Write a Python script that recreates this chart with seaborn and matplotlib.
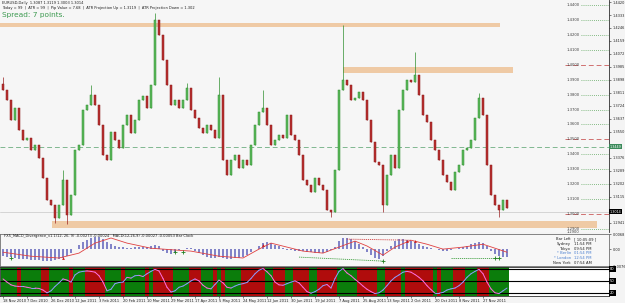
import numpy as np
import matplotlib
matplotlib.use("Agg")
import matplotlib.pyplot as plt
import seaborn as sns
import pandas as pd

sns.set_theme(style="white")
plt.rcParams['font.family'] = ['DejaVu Sans']

# ---------------- data ----------------
open0 = 1.3871
close = [1.3831, 1.3764, 1.3630, 1.3710, 1.3563, 1.3496, 1.3509, 1.3429, 1.3462, 1.3375,
         1.3241, 1.3094, 1.3060, 1.2973, 1.3060, 1.3228, 1.2993, 1.3127, 1.3429, 1.3462,
         1.3697, 1.3730, 1.3797, 1.3730, 1.3596, 1.3395, 1.3362, 1.3549, 1.3496, 1.3442,
         1.3596, 1.3663, 1.3543, 1.3630, 1.3764, 1.3791, 1.3710, 1.3864, 1.4300, 1.4199,
         1.4032, 1.3864, 1.3730, 1.3764, 1.3710, 1.3764, 1.3844, 1.3697, 1.3643, 1.3576,
         1.3543, 1.3596, 1.3563, 1.3509, 1.3797, 1.3362, 1.3261, 1.3362, 1.3395, 1.3308,
         1.3362, 1.3328, 1.3462, 1.3596, 1.3683, 1.3710, 1.3596, 1.3462, 1.3496, 1.3529,
         1.3509, 1.3663, 1.3529, 1.3496, 1.3395, 1.3228, 1.3194, 1.3148, 1.3241, 1.3194,
         1.3161, 1.3027, 1.3014, 1.3295, 1.3831, 1.3898, 1.3864, 1.3764, 1.3777, 1.3817,
         1.3764, 1.3630, 1.3482, 1.3348, 1.3328, 1.3060, 1.3261, 1.3395, 1.3308, 1.3697,
         1.3831, 1.3898, 1.3884, 1.3931, 1.3797, 1.3663, 1.3616, 1.3496, 1.3429, 1.3362,
         1.3261, 1.3215, 1.3161, 1.3282, 1.3328, 1.3429, 1.3442, 1.3496, 1.3643, 1.3777,
         1.3663, 1.3328, 1.3127, 1.3060, 1.3027, 1.3094, 1.3040]
spike_high_idx = [0, 15, 22, 38, 46, 54, 65, 85, 103, 119]
spike_high = [1.3918, 1.3295, 1.3864, 1.4346, 1.3878, 1.3918, 1.3831, 1.4266, 1.4085, 1.3811]
spike_low_idx = [13, 16, 82, 95, 124]
spike_low = [1.2940, 1.2933, 1.2980, 1.3014, 1.2980]

# MACD histogram (ten-thousandths)
macd_hist = [-32, -36, -36, -40, -45, -45, -45, -50, -50, -50,
             -54, -54, -54, -50, -45, -40, -32, -18, 0, 18,
             32, 40, 50, 54, 54, 45, 32, 22, 14, 9,
             9, 4, 4, 9, 9, 9, 9, 14, 18, 14,
             -9, -18, -22, -18, -4, 0, 4, 4, -9, -18,
             -27, -36, -40, -40, -36, -40, -45, -45, -40, -40,
             -36, -27, -14, 0, 14, 27, 32, 27, 18, 14,
             4, -4, -4, -9, -9, -9, -14, -14, -18, -18,
             -18, -14, -4, 9, 36, 50, 50, 45, 36, 22,
             9, -14, -27, -40, -45, -32, -9, 14, 36, 45,
             45, 40, 36, 32, 22, 14, 9, 4, 0, -4,
             -9, -9, -4, 0, 4, 9, 14, 22, 27, 32,
             27, 14, -9, -22, -32, -36, -36]
signal_idx = [0, 7, 14, 19, 23, 27, 31, 37, 43, 47, 54, 60, 64, 67, 71, 75, 80, 84, 88, 91,
              95, 98, 102, 106, 110, 115, 120, 123, 126]
signal_val = [-14, -32, -40, -18, 27, 50, 27, 4, -4, -9, -32, -40, 0, 27, 9, -9, -18, 9, 36, 14,
              -27, 9, 40, 22, 0, 9, 22, 4, -14]
red_mark_idx = [15, 65, 101, 103]
red_mark_val = [-40, 20, 36, 36]
green_mark_idx = [2, 43, 45, 95, 123, 124]
green_mark_val = [-40, -14, -14, -54, -40, -40]
div_lines = [((86, 45), (102, 40), '#d04040'),
             ((74, -36), (95, -54), '#40a040'),
             ((112, -40), (124, -40), '#40a040')]

# oscillator
osc = [55, 47, 40, 37, 36, 36, 34, 32, 32, 31,
       27, 20, 25, 36, 45, 55, 52, 47, 65, 72,
       74, 75, 74, 72, 63, 47, 25, 29, 43, 46,
       47, 59, 57, 63, 64, 61, 68, 74, 79, 75,
       56, 34, 22, 25, 34, 37, 43, 50, 55, 50,
       39, 32, 30, 41, 52, 45, 34, 32, 37, 41,
       43, 46, 56, 68, 77, 81, 73, 63, 47, 40,
       39, 43, 47, 50, 45, 34, 23, 19, 23, 29,
       38, 41, 32, 56, 74, 81, 70, 63, 54, 46,
       37, 29, 23, 18, 20, 27, 38, 50, 59, 65,
       72, 74, 72, 66, 59, 50, 38, 28, 19, 19,
       21, 27, 30, 32, 38, 47, 59, 68, 74, 79,
       68, 47, 30, 20, 18, 25, 32]
stripes = ("gggg" "r" "ggggg" "rr" "ggggg" "r" "ggg" "rrrrr" "gggg" "r" "ggggg" "r" "g"
           "rrrrr" "gggg" "rrr" "ggg" "r" "g" "r" "gggg" "rrrrrr" "gg" "rrr" "gg" "rrrr"
           "gg" "rrrrr" "ggggg" "rrrrr" "gg" "rrrr" "g" "rrrrrrr" "g" "r" "ggg" "rrr"
           "ggg" "rrr" "ggggg")
osc_levels = [80, 50, 20]
osc_labels = ["80", "50", "20"]

date_idx = [0, 6, 12, 18, 24, 30, 36, 42, 48, 54, 60, 66, 72, 78, 84, 90, 96, 102, 108, 114, 120]
date_labels = ["18 Nov 2010", "7 Dec 2010", "26 Dec 2010", "12 Jan 2011", "3 Feb 2011",
               "20 Feb 2011", "10 Mar 2011", "29 Mar 2011", "17 Apr 2011", "5 May 2011",
               "24 May 2011", "12 Jun 2011", "30 Jun 2011", "19 Jul 2011", "7 Aug 2011",
               "25 Aug 2011", "13 Sep 2011", "2 Oct 2011", "20 Oct 2011", "8 Nov 2011",
               "27 Nov 2011"]

grid_levels = [1.4400, 1.4300, 1.4200, 1.4100, 1.4000, 1.3900, 1.3800, 1.3700, 1.3600,
               1.3500, 1.3400, 1.3300, 1.3200, 1.3100, 1.3000, 1.2900]
major_levels = [1.4000, 1.3500, 1.3000]
right_ticks = [1.4420, 1.4333, 1.4246, 1.4159, 1.4072, 1.3985, 1.3898, 1.3811, 1.3724,
               1.3637, 1.3550, 1.3376, 1.3289, 1.3202, 1.3115, 1.2941]
zones = [(-0.75, 124.25, 1.4253, 1.4279), (85.0, 127.5, 1.3945, 1.3985),
         (12.25, 148.5, 1.2906, 1.2953)]
mid_line = 1.3449
bid = 1.3014

# ---------------- figure ----------------
W, H = 625, 303
fig = plt.figure(figsize=(W / 100, H / 100), dpi=100, facecolor='#f4f4f4')
right_px = 609
XL = (-0.75, 151.5)

def axrect(top, bottom):
    return [0, 1 - bottom / H, right_px / W, (bottom - top) / H]

ax = fig.add_axes(axrect(0, 232))
axm = fig.add_axes(axrect(234, 266))
axo = fig.add_axes(axrect(267, 296))

n = len(close)
idx = np.arange(n)
c = np.array(close)
o = np.concatenate([[open0], c[:-1]])
hi = np.maximum(o, c)
lo = np.minimum(o, c)
hi[spike_high_idx] = spike_high
lo[spike_low_idx] = spike_low

df = pd.DataFrame({'i': idx, 'open': o, 'close': c, 'high': hi, 'low': lo})
up = df['close'] >= df['open']

ax.set_facecolor('#f6f6f6')
for (x0, x1, p0, p1) in zones:
    ax.fill_between([x0, x1], p0, p1, color='#efcaa5', lw=0, zorder=1)
ax.axhline(mid_line, color='#80b890', lw=0.7, dashes=(5, 3), zorder=2)
ax.axhline(bid, color='#cfcfcf', lw=0.6, zorder=2)

ax.vlines(df['i'][up], df['low'][up], df['high'][up], color='#2f8f2f', lw=0.5, zorder=3)
ax.vlines(df['i'][~up], df['low'][~up], df['high'][~up], color='#9a2020', lw=0.5, zorder=3)
ax.bar(df['i'][up], (df['close'] - df['open'])[up], bottom=df['open'][up], width=0.42,
       color='#5cb85c', edgecolor='#2f8f2f', linewidth=0.35, zorder=4)
ax.bar(df['i'][~up], (df['close'] - df['open'])[~up], bottom=df['open'][~up], width=0.42,
       color='#b83030', edgecolor='#8b1a1a', linewidth=0.35, zorder=4)

for lv in grid_levels:
    if lv in major_levels:
        ax.plot([140.5, XL[1]], [lv, lv], color='#d07070', lw=0.7, dashes=(5, 3), zorder=2)
    else:
        ax.plot([144.5, XL[1]], [lv, lv], color='#60a860', lw=0.6, dashes=(1, 1.5), zorder=2)
    ax.text(141.0, lv, f"{lv:.4f}", fontsize=2.7, color='#404040', va='center', ha='left', zorder=5)

ax.set_xlim(*XL)
ax.set_ylim(1.28796, 1.44335)
ax.yaxis.tick_right()
ax.set_yticks(right_ticks)
ax.set_yticklabels([f"{t:.4f}" for t in right_ticks])
ax.tick_params(axis='y', labelsize=2.5, length=1.5, width=0.4, pad=1, colors='#202020', right=True)
ax.set_xticks([])
for s in ['left', 'top', 'bottom']:
    ax.spines[s].set_visible(False)
ax.spines['right'].set_color('#303030')
ax.spines['right'].set_linewidth(0.6)
ax.text(XL[1] + 0.2, mid_line, f"{mid_line:.4f}", fontsize=2.4, color='white', va='center',
        ha='left', bbox=dict(boxstyle='square,pad=0.15', fc='#3a8a5a', ec='none'), clip_on=False, zorder=6)
ax.text(XL[1] + 0.2, bid, f"{bid:.4f}", fontsize=2.4, color='white', va='center',
        ha='left', bbox=dict(boxstyle='square,pad=0.15', fc='black', ec='none'), clip_on=False, zorder=6)

# header text
fig.text(2 / W, 1 - 3 / H, "EURUSD,Daily  1.3087 1.3119 1.3003 1.3014", fontsize=2.6, va='center', color='#202020')
fig.text(2 / W, 1 - 7.5 / H, "Today = 99  |  ATR = 99  |  Pip Value = 7.68  |  ATR Projection Up = 1.3119  |  ATR Projection Down = 1.302",
         fontsize=2.6, va='center', color='#202020')
fig.text(2 / W, 1 - 15 / H, "Spread: 7 points.", fontsize=5.3, va='center', color='#3c9a50')

# ---------------- MACD panel ----------------
mh = np.array(macd_hist) * 1e-4
axm.set_facecolor('#f7f7f7')
axm.bar(idx, mh, width=0.55, color='#8284c8', linewidth=0, zorder=2)
sig = pd.DataFrame({'i': signal_idx, 'v': np.array(signal_val) * 1e-4})
sns.lineplot(data=sig, x='i', y='v', ax=axm, color='#e04040', lw=0.6, zorder=3)
for (p0, p1, col) in div_lines:
    axm.plot([p0[0], p1[0]], [p0[1] * 1e-4, p1[1] * 1e-4], color=col, lw=0.6, ls=(0, (1.5, 1)), zorder=3)
axm.scatter(red_mark_idx, np.array(red_mark_val) * 1e-4, marker='^', s=4, color='#d02020', zorder=4, linewidths=0)
axm.scatter(green_mark_idx, np.array(green_mark_val) * 1e-4, marker='+', s=5, color='#208020', zorder=4, linewidths=0.6)
axm.set_xlim(*XL)
axm.set_ylim(-0.0076, 0.0068)
axm.set_xlabel('')
axm.set_ylabel('')
axm.set_xticks([])
axm.yaxis.tick_right()
axm.set_yticks([0.0068, 0.0, -0.0076])
axm.set_yticklabels(["0.0068", "0.00", "-0.0076"])
axm.tick_params(axis='y', labelsize=2.5, length=1.5, width=0.4, pad=1, colors='#202020', right=True)
for s in ['left', 'top', 'bottom', 'right']:
    axm.spines[s].set_color('#707070')
    axm.spines[s].set_linewidth(0.6)
axm.text(0.3, 0.0059, "FX5_MACD_Divergence_v1.1(12, 26, 9) -0.00273 -0.00024   MACD(12,26,9) -0.00027 -0.00053 Bar Clock",
         fontsize=2.6, va='center', ha='left', color='#202020', zorder=5)

clock = [("Bar Left", "[ 10:05:09 ]", '#202020'), ("Sydney", "11:54 PM", '#202020'),
         ("Tokyo", "09:54 PM", '#202020'), ("* Berlin", "01:54 PM", '#4a7fd0'),
         ("* London", "12:54 PM", '#4a7fd0'), ("New York", "07:54 AM", '#202020')]
for k, (nm, tm, col) in enumerate(clock):
    yy = 1 - (239.5 + k * 4.6) / H
    fig.text(571 / W, yy, nm, fontsize=2.7, ha='right', va='center', color=col)
    fig.text(574 / W, yy, tm, fontsize=2.7, ha='left', va='center', color=col)
fig.text(567 / W, 1 - 232 / H, "1.2900", fontsize=2.6, ha='left', va='center', color='#404040')

# ---------------- oscillator panel ----------------
axo.set_facecolor('white')
scol = ['#0b7d0b' if s == 'g' else '#b00c0c' for s in stripes]
axo.bar(idx, 73, bottom=12, width=1.0, color=scol, linewidth=0, zorder=1)
for lv in osc_levels:
    axo.axhline(lv, color='black', lw=0.8, zorder=2)
ov = np.array(osc)
for k in range(n - 1):
    colr = '#8f9cff' if ov[k + 1] >= ov[k] else '#ff6ee0'
    axo.plot([k, k + 1], [ov[k], ov[k + 1]], color=colr, lw=0.7, zorder=3, solid_capstyle='round')
axo.set_xlim(*XL)
axo.set_ylim(12, 85)
axo.yaxis.tick_right()
axo.set_yticks([])
for lv, lb in zip(osc_levels, osc_labels):
    axo.text(XL[1] + 0.3, lv, lb, fontsize=2.6, color='white', va='center', ha='left',
             bbox=dict(boxstyle='square,pad=0.2', fc='black', ec='none'), clip_on=False, zorder=6)
axo.set_xticks(date_idx)
axo.set_xticklabels(date_labels, ha='left')
axo.tick_params(axis='x', labelsize=2.6, length=1.5, width=0.4, pad=0.8, colors='#202020', bottom=True)
for s in ['left', 'top', 'bottom', 'right']:
    axo.spines[s].set_color('#303030')
    axo.spines[s].set_linewidth(0.6)

fig.savefig("out.png", dpi=100, facecolor=fig.get_facecolor())
